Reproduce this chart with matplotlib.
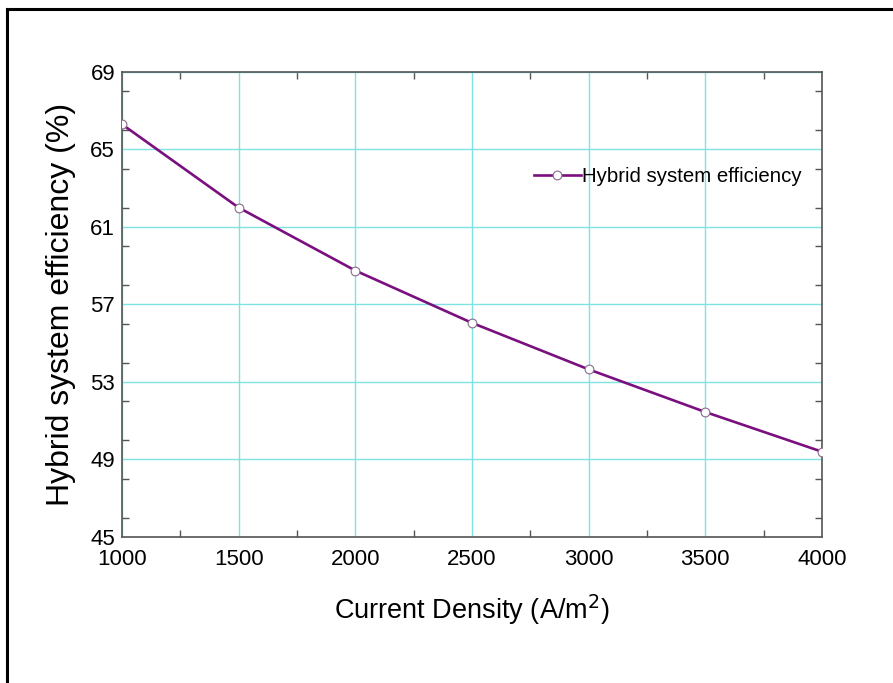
import matplotlib
matplotlib.use("Agg")
import matplotlib.pyplot as plt
from matplotlib.lines import Line2D
from matplotlib.ticker import MultipleLocator

plt.rcParams["font.family"] = ["Liberation Sans", "DejaVu Sans"]

# data
current_density = [1000, 1500, 2000, 2500, 3000, 3500, 4000]
efficiency = [66.3, 62.0, 58.75, 56.05, 53.65, 51.45, 49.4]

x_ticks = [1000, 1500, 2000, 2500, 3000, 3500, 4000]
y_ticks = [45, 49, 53, 57, 61, 65, 69]

purple = "#7a0f7f"
grid_col = "#7fe3e3"

fig = plt.figure(figsize=(8.93, 6.83), dpi=100)
ax = fig.add_axes([0.1366, 0.2138, 0.7839, 0.6808])

ax.plot(current_density, efficiency, color=purple, lw=1.9,
        marker="o", ms=6.3, mfc="white", mec="#8a6a8c", mew=0.8,
        label="Hybrid system efficiency", zorder=3)

ax.set_xlim(1000, 4000)
ax.set_ylim(45, 69)
ax.set_xticks(x_ticks)
ax.set_yticks(y_ticks)
ax.xaxis.set_minor_locator(MultipleLocator(250))
ax.yaxis.set_minor_locator(MultipleLocator(2))

ax.grid(True, which="major", color=grid_col, lw=1.0)
ax.tick_params(which="major", length=0, labelsize=16)
ax.tick_params(axis="x", which="major", pad=9)
ax.tick_params(axis="y", which="major", pad=5)
ax.tick_params(which="minor", direction="in", length=5, width=1,
               color="#555555", top=True, right=True)

for sp in ax.spines.values():
    sp.set_color("#555555")
    sp.set_linewidth(1.2)

ax.set_xlabel("Current Density (A/m$^2$)", fontsize=19.5, labelpad=16)
ax.set_ylabel("Hybrid system efficiency (%)", fontsize=23, labelpad=10)

ax.legend(loc="upper right", bbox_to_anchor=(0.997, 0.835), frameon=False,
          fontsize=14.7, handlelength=2.3, handletextpad=0.05)

# partial frame around the figure (top and left edges)
fig.add_artist(Line2D([0.008, 0.008], [0.0, 0.987], color="black", lw=2.2,
                      transform=fig.transFigure))
fig.add_artist(Line2D([0.008, 1.0], [0.987, 0.987], color="black", lw=2.2,
                      transform=fig.transFigure))

fig.savefig("out.png", dpi=100, facecolor="white")
